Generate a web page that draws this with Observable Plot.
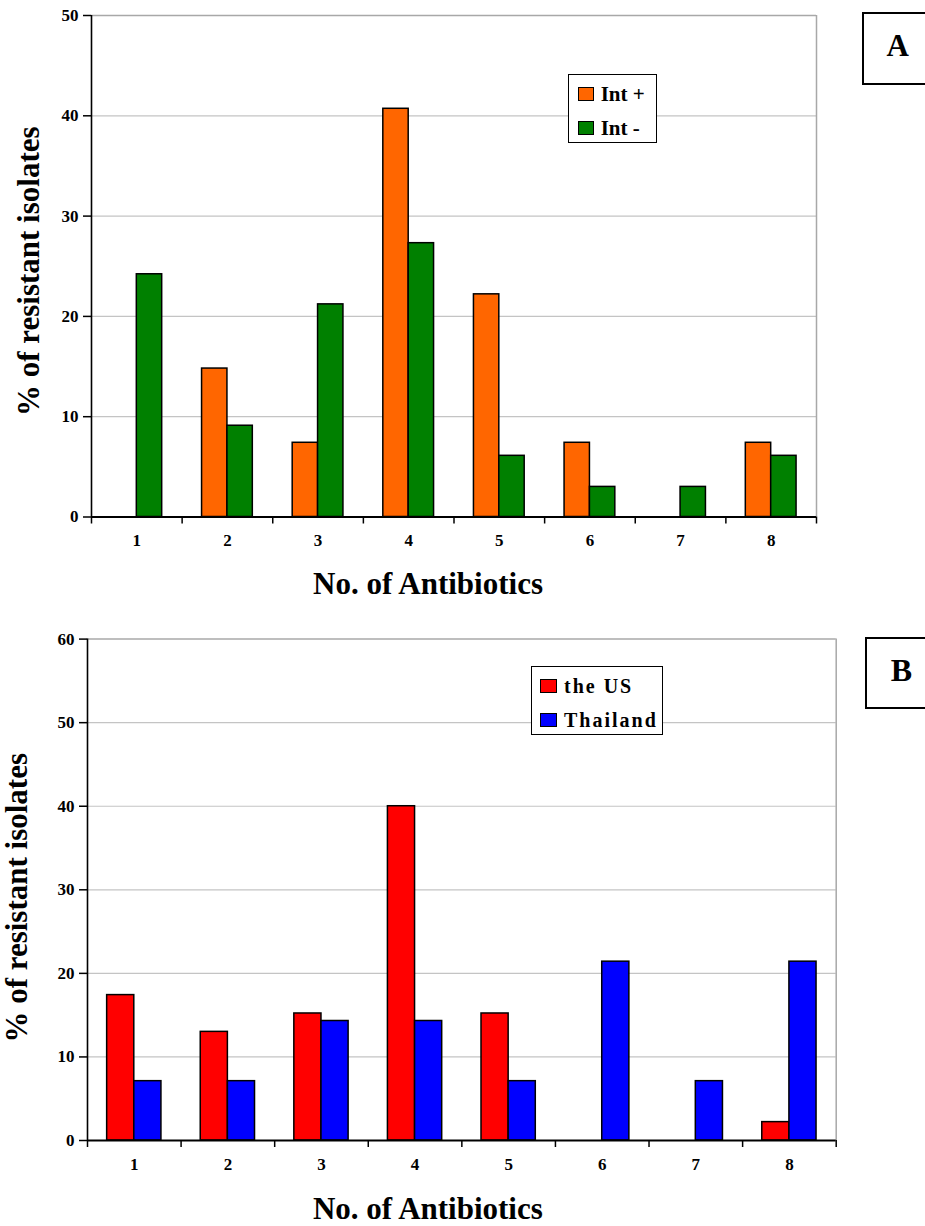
<!DOCTYPE html>
<html>
<head>
<meta charset="utf-8">
<script src="https://cdn.jsdelivr.net/npm/d3@7"></script>
<script src="https://cdn.jsdelivr.net/npm/@observablehq/plot@0.6"></script>
<style>
  body { margin: 0; background: #fff; }
  #page { position: relative; width: 925px; height: 1226px; overflow: hidden; background: #fff;
          font-family: "Liberation Serif", "Times New Roman", serif; font-weight: bold; color: #000; }
  .chart { position: absolute; left: 0; }
  .box { position: absolute; border: 1.5px solid #000; background: #fff; box-sizing: border-box; }
  .sw { position: absolute; border: 1.5px solid #000; box-sizing: border-box; }
  .lt { position: absolute; white-space: nowrap; line-height: 1; }
  .panel { position: absolute; border: 2px solid #000; box-sizing: border-box; background: #fff;
           text-align: center; line-height: 1; }
</style>
</head>
<body>
<div id="page"></div>
<script>
// ---------- data ----------
const antibiotics = [1, 2, 3, 4, 5, 6, 7, 8];

const seriesA = ["Int +", "Int -"];
const colorsA = ["#FF6600", "#008000"];
const intPlus  = [0, 14.8, 7.4, 40.7, 22.2, 7.4, 0, 7.4];
const intMinus = [24.2, 9.1, 21.2, 27.3, 6.1, 3.0, 3.0, 6.1];
const yTicksA = [0, 10, 20, 30, 40, 50];

const seriesB = ["the US", "Thailand"];
const colorsB = ["#FF0000", "#0000FF"];
const theUS    = [17.4, 13.0, 15.2, 40.0, 15.2, 0, 0, 2.2];
const thailand = [7.1, 7.1, 14.3, 14.3, 7.1, 21.4, 7.1, 21.4];
const yTicksB = [0, 10, 20, 30, 40, 50, 60];

const xTitle = "No. of Antibiotics";
const yTitle = "% of resistant isolates";
const panelA = "A";
const panelB = "B";

// ---------- chart builder ----------
const page = document.getElementById("page");

function makeChart(cfg) {
  const rows = [];
  cfg.values.forEach((vals, si) => {
    vals.forEach((v, i) => rows.push({n: antibiotics[i], series: cfg.names[si], si, value: v}));
  });
  const yMax = cfg.yTicks[cfg.yTicks.length - 1];
  const lo = antibiotics[0] - 0.5, hi = antibiotics[antibiotics.length - 1] + 0.5;
  const bounds = antibiotics.map(d => d - 0.5).concat([hi]);
  const w = cfg.barW;
  const chart = Plot.plot({
    width: 925,
    height: cfg.height,
    marginTop: cfg.mt, marginBottom: cfg.mb, marginLeft: cfg.ml, marginRight: cfg.mr,
    style: {fontFamily: "'Liberation Serif', 'Times New Roman', serif", fontWeight: "bold",
            fontSize: "17px", color: "#000", background: "#fff", overflow: "visible"},
    x: {type: "linear", domain: [lo, hi]},
    y: {domain: [0, yMax]},
    color: {domain: cfg.names, range: cfg.colors},
    marks: [
      Plot.ruleY(cfg.yTicks.filter(t => t > 0 && t < yMax), {stroke: "#c4c4c4", strokeWidth: 1.2}),
      Plot.ruleY([yMax], {stroke: "#a8a8a8", strokeWidth: 1.5}),
      Plot.ruleX([hi], {stroke: "#a8a8a8", strokeWidth: 1.5}),
      Plot.rectY(rows, {
        x1: d => d.n + (d.si - 1) * w,
        x2: d => d.n + d.si * w,
        y1: 0, y2: "value",
        fill: "series", stroke: "#000", strokeWidth: 1.5
      }),
      Plot.ruleX([lo], {stroke: "#000", strokeWidth: 1.6}),
      Plot.ruleY([0], {stroke: "#000", strokeWidth: 2}),
      Plot.axisY({ticks: cfg.yTicks, tickSize: 8, tickPadding: 5, tickFormat: d3.format("d"),
                  label: null, fontSize: 17, strokeWidth: 1.5}),
      Plot.axisX({ticks: bounds, tickSize: 7, tickFormat: () => "", label: null, strokeWidth: 1.5}),
      Plot.axisX({ticks: antibiotics, tickSize: 0, tickPadding: 17, tickFormat: d3.format("d"),
                  label: null, fontSize: 17}),
      Plot.text([xTitle], {frameAnchor: "bottom", lineAnchor: "bottom", dx: cfg.xlDx, dy: cfg.xlDy,
                           fontSize: 31, fontWeight: "bold"}),
      Plot.text([yTitle], {frameAnchor: "left", textAnchor: "middle", lineAnchor: "bottom", rotate: -90,
                           dx: cfg.ylDx, dy: cfg.ylDy, fontSize: 31, fontWeight: "bold"})
    ]
  });
  chart.classList.add("chart");
  chart.style.top = cfg.top + "px";
  page.appendChild(chart);
}

function makeLegend(L, names, colors) {
  const box = document.createElement("div");
  box.className = "box";
  Object.assign(box.style, {left: L.x + "px", top: L.y + "px", width: L.w + "px", height: L.h + "px"});
  page.appendChild(box);
  names.forEach((name, i) => {
    const sw = document.createElement("div");
    sw.className = "sw";
    Object.assign(sw.style, {left: L.swX + "px", top: (L.rowY[i] - L.swH / 2) + "px",
      width: L.swW + "px", height: L.swH + "px", background: colors[i]});
    page.appendChild(sw);
    const t = document.createElement("div");
    t.className = "lt";
    t.textContent = name;
    Object.assign(t.style, {left: L.tX + "px", top: (L.rowY[i] - L.fs * 0.5) + "px",
      fontSize: L.fs + "px", letterSpacing: L.ls + "px"});
    page.appendChild(t);
  });
}

function makePanel(P, letter) {
  const d = document.createElement("div");
  d.className = "panel";
  d.textContent = letter;
  Object.assign(d.style, {left: P.x + "px", top: P.y + "px", width: P.w + "px", height: P.h + "px",
    fontSize: P.fs + "px", paddingTop: P.pt + "px"});
  page.appendChild(d);
}

// ---------- chart A ----------
makeChart({values: [intPlus, intMinus], names: seriesA, colors: colorsA, yTicks: yTicksA,
  barW: 0.28, top: 0, height: 610, mt: 15, mb: 93.5, ml: 91, mr: 109,
  xlDx: -26, xlDy: 76.5, ylDx: -53, ylDy: 5});
makeLegend({x: 568.3, y: 74.3, w: 88.4, h: 69, swX: 578.3, swW: 16, swH: 14, rowY: [94.2, 128.3],
  tX: 600.7, fs: 21, ls: 0}, seriesA, colorsA);
makePanel({x: 861.7, y: 12.4, w: 72, h: 72.3, fs: 31, pt: 16}, panelA);

// ---------- chart B ----------
makeChart({values: [theUS, thailand], names: seriesB, colors: colorsB, yTicks: yTicksB,
  barW: 0.29, top: 610, height: 616, mt: 28.6, mb: 86, ml: 87, mr: 89.3,
  xlDx: -34, xlDy: 78.3, ylDx: -60.3, ylDy: 8});
makeLegend({x: 531.3, y: 665.6, w: 131.4, h: 69.2, swX: 540.3, swW: 17, swH: 14, rowY: [685.7, 719.5],
  tX: 564, fs: 20, ls: 2}, seriesB, colorsB);
makePanel({x: 865.3, y: 636.6, w: 72, h: 72.3, fs: 32, pt: 15}, panelB);
</script>
</body>
</html>
